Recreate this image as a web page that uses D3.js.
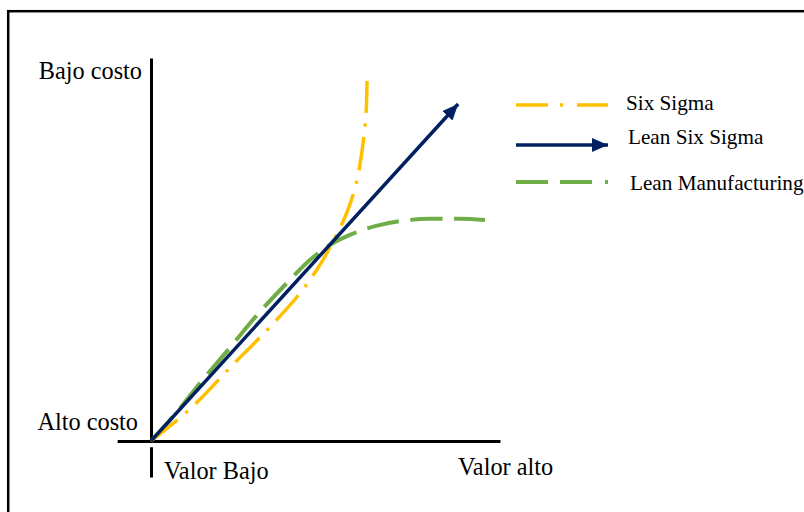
<!DOCTYPE html>
<html><head><meta charset="utf-8">
<script src="https://cdn.jsdelivr.net/npm/d3@7"></script>
<style>html,body{margin:0;padding:0;background:#fff;}svg{display:block;}</style>
</head><body>
<script>
// ---- data (in relative units: 0..100 value, 0..100 cost reduction) ----
const seriesNames = ["Six Sigma", "Lean Six Sigma", "Lean Manufacturing"];
const seriesColors = ["#FFC000", "#002060", "#70AD47"];
const sixSigmaX = [0, 11.2, 22.6, 34.1, 42.7, 48.4, 52.7, 56.4, 59.0, 60.5, 61.6, 61.9];
const sixSigmaY = [0, 8.4, 19.1, 29.8, 38.6, 46.0, 53.0, 60.3, 68.1, 76.0, 85.1, 94.0];
const leanSixSigmaX = [0, 88];
const leanSixSigmaY = [0, 88];
const leanMfgX = [0, 6.9, 14.0, 22.1, 30.4, 39.0, 45.6, 51.3, 57.0, 64.2, 71.3, 79.9, 88.5, 95.7];
const leanMfgY = [0, 7.0, 15.1, 23.8, 32.9, 41.3, 47.3, 51.2, 53.8, 56.1, 57.4, 58.0, 58.0, 57.7];
const yTopLabel = "Bajo costo";
const yBottomLabel = "Alto costo";
const xLeftLabel = "Valor Bajo";
const xRightLabel = "Valor alto";

const W = 804, H = 512;
const svg = d3.select("body").append("svg").attr("width", W).attr("height", H);

// frame
svg.append("rect").attr("x", 8.2).attr("y", 11.2).attr("width", 820).attr("height", 520)
  .attr("fill", "none").attr("stroke", "#000").attr("stroke-width", 2.5);

const x = d3.scaleLinear().domain([0, 100]).range([151, 500]);
const y = d3.scaleLinear().domain([0, 100]).range([441, 58]);

// axes (library axes, no ticks)
const hAxisScale = x.copy().domain([-9.7, 100]).range([x(-9.7), x(100)]);
const gx = svg.append("g").attr("transform", `translate(0,${y(0)})`)
  .call(d3.axisBottom(hAxisScale).tickValues([]).tickSizeOuter(0));
gx.select(".domain").attr("stroke", "#000").attr("stroke-width", 3);

const gy = svg.append("g").attr("transform", `translate(${x(0)},0)`)
  .call(d3.axisLeft(y).tickValues([]).tickSizeOuter(0));
gy.select(".domain").attr("stroke", "#000").attr("stroke-width", 3);

const yBelow = y.copy().domain([-1.5, -9.4]).range([y(-1.5), y(-9.4)]);
const gy2 = svg.append("g").attr("transform", `translate(${x(0)},0)`)
  .call(d3.axisLeft(yBelow).tickValues([]).tickSizeOuter(0));
gy2.select(".domain").attr("stroke", "#000").attr("stroke-width", 3);

const font = "'Liberation Serif','Times New Roman',serif";

// axis labels
svg.append("text").attr("x", 142).attr("y", 79).attr("text-anchor", "end")
  .attr("font-family", font).attr("font-size", 24.3).text(yTopLabel);
svg.append("text").attr("x", 138).attr("y", 430).attr("text-anchor", "end")
  .attr("font-family", font).attr("font-size", 24.3).text(yBottomLabel);
svg.append("text").attr("x", 164).attr("y", 479)
  .attr("font-family", font).attr("font-size", 24.3).text(xLeftLabel);
svg.append("text").attr("x", 458).attr("y", 475)
  .attr("font-family", font).attr("font-size", 24.3).text(xRightLabel);

// arrow marker
const defs = svg.append("defs");
defs.append("marker").attr("id", "arrow").attr("markerUnits", "userSpaceOnUse")
  .attr("viewBox", "0 0 16 14").attr("refX", 16).attr("refY", 7)
  .attr("markerWidth", 16).attr("markerHeight", 14).attr("orient", "auto")
  .append("path").attr("d", "M0,0 L16,7 L0,14 Z").attr("fill", seriesColors[1]);

const zip = (a, b) => a.map((v, i) => [v, b[i]]);

// fit a dash pattern so that the path starts and ends with a dash
function fitDash(path, pattern, firstDash) {
  const L = path.node().getTotalLength();
  const period = d3.sum(pattern);
  const n = Math.max(1, Math.round((L - firstDash) / period));
  const k = (L - firstDash) / (n * period);
  path.attr("stroke-dasharray", pattern.map(v => v * k).join(","));
}

// Lean Manufacturing
const line = d3.line().x(d => x(d[0])).y(d => y(d[1])).curve(d3.curveMonotoneX);
const pLM = svg.append("path").datum(zip(leanMfgX, leanMfgY)).attr("d", line)
  .attr("fill", "none").attr("stroke", seriesColors[2]).attr("stroke-width", 4);
fitDash(pLM, [31, 11], 31);

// Six Sigma (monotone in y for the steep part)
const lineSS = d3.line().x(d => x(d[0])).y(d => y(d[1])).curve(d3.curveMonotoneY);
const pSS = svg.append("path").datum(zip(sixSigmaX, sixSigmaY)).attr("d", lineSS)
  .attr("fill", "none").attr("stroke", seriesColors[0]).attr("stroke-width", 3.5);
fitDash(pSS, [32, 10, 3, 10], 32);

// Lean Six Sigma arrow
svg.append("path").datum(zip(leanSixSigmaX, leanSixSigmaY)).attr("d", d3.line().x(d => x(d[0])).y(d => y(d[1])))
  .attr("fill", "none").attr("stroke", seriesColors[1]).attr("stroke-width", 3.5)
  .attr("marker-end", "url(#arrow)");

// legend
const legendY = [105, 145, 182];
const legendTextX = [626, 628, 630];
const legendTextY = [110, 144, 190];
const lg = svg.append("g");
// Six Sigma
lg.append("line").attr("x1", 516).attr("x2", 608).attr("y1", legendY[0]).attr("y2", legendY[0])
  .attr("stroke", seriesColors[0]).attr("stroke-width", 3.5).attr("stroke-dasharray", "32,12,3,14");
// Lean Six Sigma arrow
lg.append("line").attr("x1", 516).attr("x2", 608).attr("y1", legendY[1]).attr("y2", legendY[1])
  .attr("stroke", seriesColors[1]).attr("stroke-width", 3.5).attr("marker-end", "url(#arrow)");
// Lean Manufacturing
lg.append("line").attr("x1", 516).attr("x2", 608).attr("y1", legendY[2]).attr("y2", legendY[2])
  .attr("stroke", seriesColors[2]).attr("stroke-width", 4).attr("stroke-dasharray", "32,12,32,13,3,20");
seriesNames.forEach((n, i) => {
  lg.append("text").attr("x", legendTextX[i]).attr("y", legendTextY[i])
    .attr("font-family", font).attr("font-size", 21.2).text(n);
});
</script>
</body></html>
